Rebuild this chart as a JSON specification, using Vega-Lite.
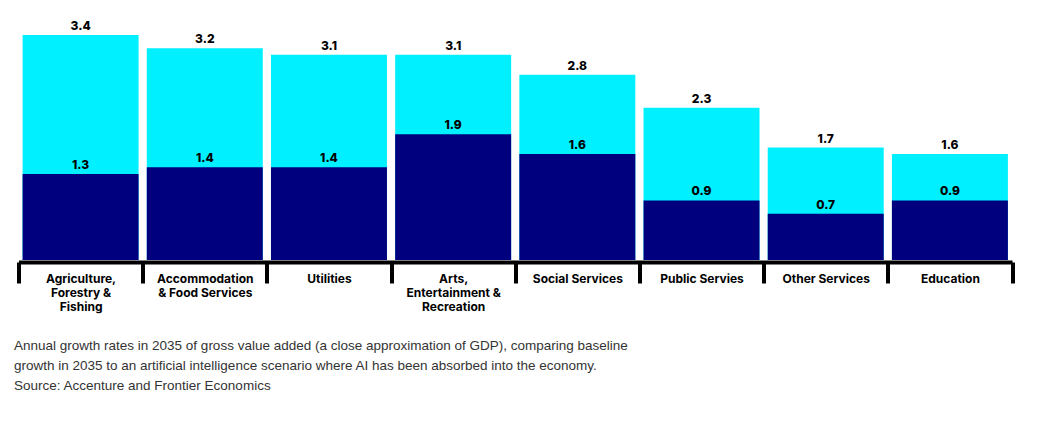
{
  "$schema": "https://vega.github.io/schema/vega-lite/v6.json",
  "width": 993.5,
  "height": 225,
  "autosize": {"type": "none"},
  "padding": {"left": 18.5, "top": 35, "right": 31, "bottom": 162},
  "background": "white",
  "config": {"view": {"stroke": null}},
  "data": {
    "values": [
      {"sector": "Agriculture, Forestry & Fishing", "baseline": 1.3, "ai": 3.4},
      {"sector": "Accommodation & Food Services", "baseline": 1.4, "ai": 3.2},
      {"sector": "Utilities", "baseline": 1.4, "ai": 3.1},
      {"sector": "Arts, Entertainment & Recreation", "baseline": 1.9, "ai": 3.1},
      {"sector": "Social Services", "baseline": 1.6, "ai": 2.8},
      {"sector": "Public Servies", "baseline": 0.9, "ai": 2.3},
      {"sector": "Other Services", "baseline": 0.7, "ai": 1.7},
      {"sector": "Education", "baseline": 0.9, "ai": 1.6}
    ]
  },
  "title": {
    "text": [
      "Annual growth rates in 2035 of gross value added (a close approximation of GDP), comparing baseline",
      "growth in 2035 to an artificial intelligence scenario where AI has been absorbed into the economy.",
      "Source: Accenture and Frontier Economics"
    ],
    "orient": "bottom",
    "anchor": "start",
    "frame": "group",
    "font": "Liberation Sans",
    "fontSize": 13.5,
    "fontWeight": "normal",
    "color": "#333333",
    "lineHeight": 20,
    "offset": 26,
    "dx": -4.5
  },
  "encoding": {
    "x": {
      "field": "sector",
      "type": "nominal",
      "sort": null,
      "scale": {"paddingInner": 0, "paddingOuter": 0},
      "axis": {
        "title": null,
        "orient": "bottom",
        "offset": 2,
        "domainColor": "#000000",
        "domainWidth": 4,
        "tickColor": "#000000",
        "tickWidth": 4,
        "tickSize": 21,
        "tickBand": "extent",
        "labelAngle": 0,
        "labelFont": "Inter",
        "labelFontWeight": 700,
        "labelFontSize": 12,
        "labelColor": "#000000",
        "labelLineHeight": 14,
        "labelBaseline": "top",
        "labelPadding": -9.5,
        "labelOverlap": false,
        "labelBound": false,
        "labelLimit": 0,
        "labelExpr": "datum.label == 'Agriculture, Forestry & Fishing' ? ['Agriculture,', 'Forestry &', 'Fishing'] : datum.label == 'Accommodation & Food Services' ? ['Accommodation', '& Food Services'] : datum.label == 'Arts, Entertainment & Recreation' ? ['Arts,', 'Entertainment &', 'Recreation'] : datum.label"
      }
    }
  },
  "layer": [
    {
      "mark": {"type": "bar", "width": {"band": 0.934}, "color": "#00F0FF"},
      "encoding": {
        "y": {"field": "ai", "type": "quantitative", "scale": {"domain": [0, 3.4], "nice": false, "zero": true}, "axis": null}
      }
    },
    {
      "mark": {"type": "bar", "width": {"band": 0.934}, "color": "#00007F"},
      "encoding": {
        "y": {"field": "baseline", "type": "quantitative"}
      }
    },
    {
      "mark": {"type": "text", "dy": -5, "baseline": "alphabetic", "font": "Inter", "fontWeight": 800, "fontSize": 12, "color": "#000000"},
      "encoding": {
        "y": {"field": "ai", "type": "quantitative"},
        "text": {"field": "ai", "type": "quantitative", "format": ".1f"}
      }
    },
    {
      "mark": {"type": "text", "dy": -5, "baseline": "alphabetic", "font": "Inter", "fontWeight": 800, "fontSize": 12, "color": "#000000"},
      "encoding": {
        "y": {"field": "baseline", "type": "quantitative"},
        "text": {"field": "baseline", "type": "quantitative", "format": ".1f"}
      }
    }
  ]
}
